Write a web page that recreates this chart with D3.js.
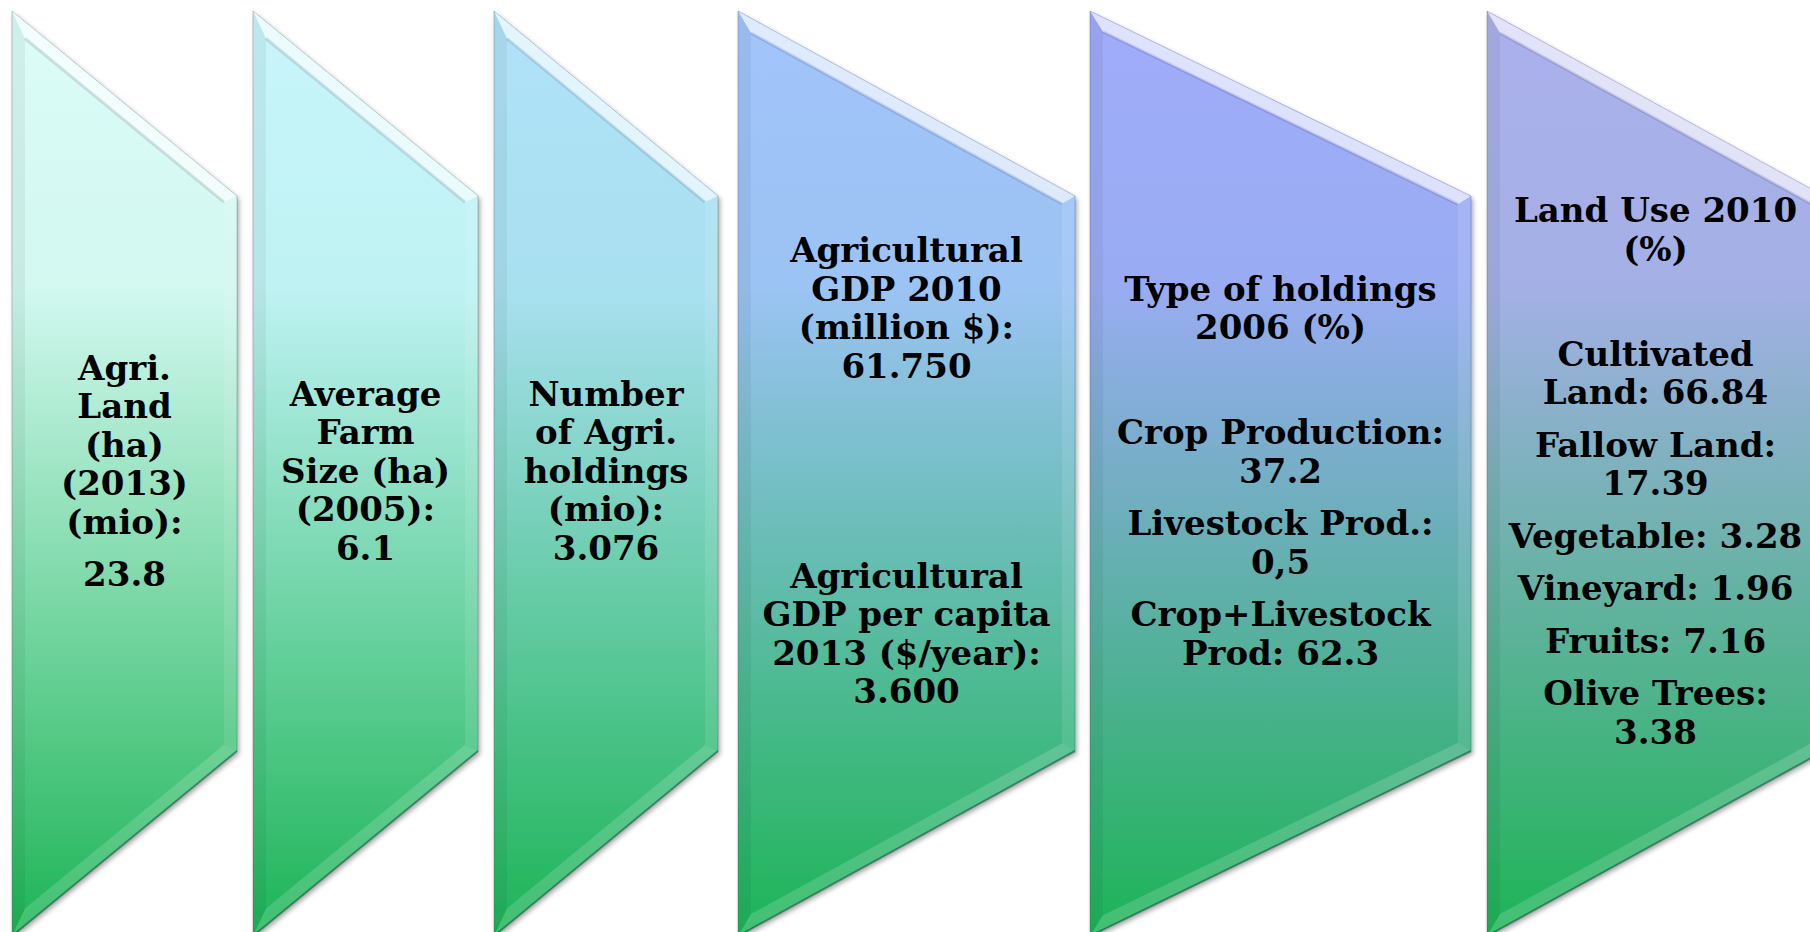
<!DOCTYPE html>
<html lang="en">
<head>
<meta charset="UTF-8" />
<title>Agriculture key figures</title>
<script src="https://cdn.jsdelivr.net/npm/d3@7"></script>
<style>
  body { margin: 0; background: #fff; }
  svg text { font-family: "DejaVu Serif", Georgia, serif; font-weight: bold; fill: #000; }
</style>
</head>
<body>
<svg width="1810" height="932"></svg>
<script>
// panel texts: one array per paragraph, lines inside ("" = empty paragraph)
var panel1 = [["Agri.", "Land", "(ha)", "(2013)", "(mio):"], ["23.8"]];
var panel2 = [["Average", "Farm", "Size (ha)", "(2005):", "6.1"]];
var panel3 = [["Number", "of Agri.", "holdings", "(mio):", "3.076"]];
var panel4 = [
  ["Agricultural", "GDP 2010", "(million $):", "61.750"],
  [""], [""], [""],
  ["Agricultural", "GDP per capita", "2013 ($/year):", "3.600"]
];
var panel5 = [
  ["Type of holdings", "2006 (%)"],
  [""],
  ["Crop Production:", "37.2"],
  ["Livestock Prod.:", "0,5"],
  ["Crop+Livestock", "Prod: 62.3"]
];
var panel6 = [
  ["Land Use 2010", "(%)"],
  [""],
  ["Cultivated", "Land: 66.84"],
  ["Fallow Land:", "17.39"],
  ["Vegetable: 3.28"],
  ["Vineyard: 1.96"],
  ["Fruits: 7.16"],
  ["Olive Trees:", "3.38"]
];
var panels = [panel1, panel2, panel3, panel4, panel5, panel6];

// layout
var lefts = [12, 253, 494, 738, 1090, 1487];
var widths = [225, 225, 224, 337, 381, 337];
var topColors = ["#dcfcf8", "#c8f5fb", "#b0e2f8", "#a2c4fb", "#a0acfa", "#abb0ec"];
var bottomColor = "#1db456";

var yTop = 11, yBottom = 936, notch = 185, bevel = 13;
var lineH = 38.5, paraGap = 14, fontSize = 34, midY = 471;

var svg = d3.select("svg");
var defs = svg.append("defs");

var shadow = defs.append("filter").attr("id", "shadow")
  .attr("x", "-10%").attr("y", "-10%").attr("width", "130%").attr("height", "130%");
shadow.append("feDropShadow").attr("dx", 2).attr("dy", 3)
  .attr("stdDeviation", 2.5).attr("flood-color", "#000").attr("flood-opacity", 0.35);

topColors.forEach(function (c, i) {
  var g = defs.append("linearGradient").attr("id", "grad" + i)
    .attr("gradientUnits", "userSpaceOnUse")
    .attr("x1", 0).attr("x2", 0).attr("y1", yTop).attr("y2", yBottom);
  g.append("stop").attr("offset", 0).attr("stop-color", c);
  g.append("stop").attr("offset", 0.3).attr("stop-color", d3.interpolateRgb(c, bottomColor)(0.05));
  g.append("stop").attr("offset", 1).attr("stop-color", bottomColor);
});

function shapePoints(i) {
  var x0 = lefts[i], x1 = lefts[i] + widths[i];
  return [[x0, yTop], [x1, yTop + notch], [x1, yBottom - notch], [x0, yBottom]];
}

// move every edge inwards by b and intersect neighbours
function inset(pts, b) {
  var cx = d3.mean(pts, function (p) { return p[0]; });
  var cy = d3.mean(pts, function (p) { return p[1]; });
  var n = pts.length;
  var lines = pts.map(function (a, k) {
    var c = pts[(k + 1) % n];
    var dx = c[0] - a[0], dy = c[1] - a[1], len = Math.hypot(dx, dy);
    var ux = dx / len, uy = dy / len;
    var nx = -uy, ny = ux;
    if (nx * (cx - a[0]) + ny * (cy - a[1]) < 0) { nx = -nx; ny = -ny; }
    return { px: a[0] + nx * b, py: a[1] + ny * b, ux: ux, uy: uy };
  });
  return pts.map(function (p, k) {
    var l1 = lines[(k - 1 + n) % n], l2 = lines[k];
    var den = l1.ux * l2.uy - l1.uy * l2.ux;
    var t = ((l2.px - l1.px) * l2.uy - (l2.py - l1.py) * l2.ux) / den;
    return [l1.px + l1.ux * t, l1.py + l1.uy * t];
  });
}

var line = function (p) { return "M" + p.join("L") + "Z"; };
var facetFill = ["rgba(255,255,255,0.65)", "rgba(255,255,255,0.1)", "rgba(255,255,255,0.16)", "rgba(0,0,0,0.05)"];

panels.forEach(function (paras, i) {
  var outer = shapePoints(i);
  var inner = inset(outer, bevel);
  var g = svg.append("g");

  g.append("path").attr("d", line(outer))
    .attr("fill", "url(#grad" + i + ")")
    .attr("filter", "url(#shadow)");

  outer.forEach(function (p, k) {
    var q = outer[(k + 1) % 4];
    g.append("path")
      .attr("d", line([p, q, inner[(k + 1) % 4], inner[k]]))
      .attr("fill", facetFill[k]);
  });

  // soft shade at the inner edge of the top bevel
  g.append("path")
    .attr("d", "M" + inner[0] + "L" + inner[1])
    .attr("stroke", "rgba(0,0,60,0.12)").attr("stroke-width", 3).attr("fill", "none");

  // dark rim on the bottom edge
  g.append("path")
    .attr("d", "M" + outer[2] + "L" + outer[3])
    .attr("stroke", "rgba(0,70,30,0.45)").attr("stroke-width", 2).attr("fill", "none");

  g.append("path").attr("d", line(outer))
    .attr("fill", "none").attr("stroke", "rgba(40,60,90,0.25)").attr("stroke-width", 1);

  // text lines, centred vertically
  var rows = [], y = 0;
  paras.forEach(function (p, j) {
    if (j > 0) y += paraGap;
    p.forEach(function (t, k) {
      if (k > 0 || j > 0) y += lineH;
      rows.push({ text: t, y: y });
    });
  });
  var off = midY - y / 2;
  var cx = lefts[i] + widths[i] / 2;

  g.selectAll("text").data(rows).enter().append("text")
    .attr("x", cx)
    .attr("y", function (d) { return d.y + off; })
    .attr("dy", "0.35em")
    .attr("text-anchor", "middle")
    .attr("font-size", fontSize)
    .text(function (d) { return d.text; });
});
</script>
</body>
</html>
